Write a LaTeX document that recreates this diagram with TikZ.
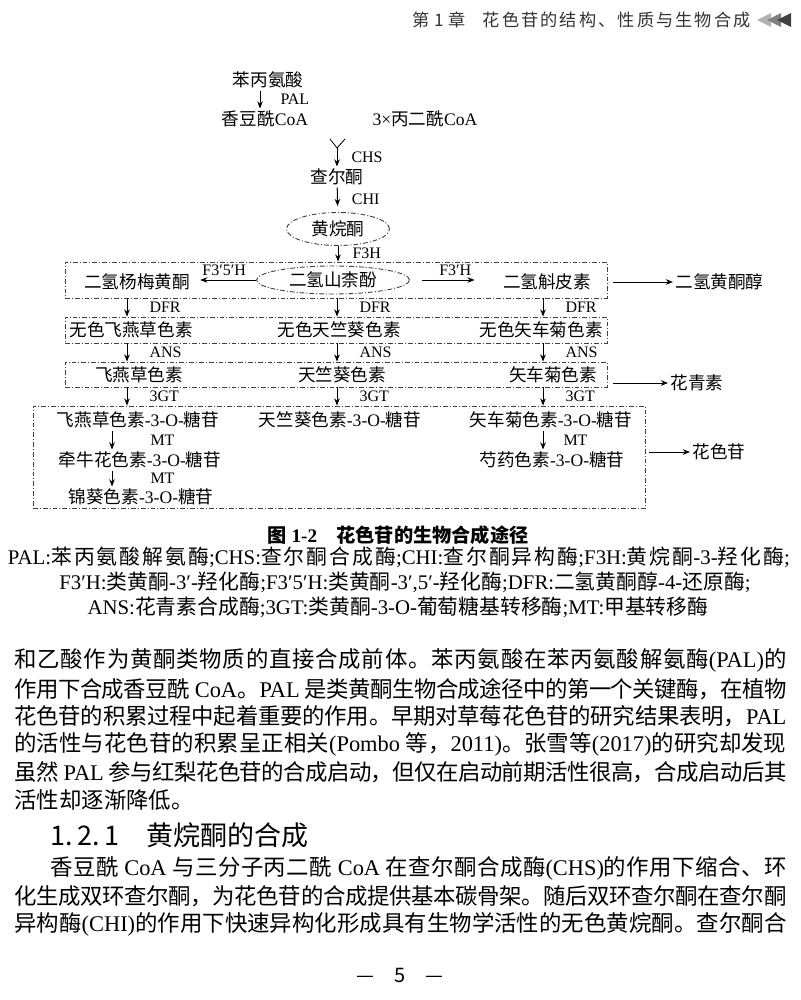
\documentclass[tikz,border=0pt]{standalone}
\usepackage{fontspec}
\setmainfont{Liberation Serif}[NFSSFamily=lser]
\newfontfamily\cjkfont{Noto Sans CJK SC}[NFSSFamily=cjk]
\usetikzlibrary{arrows.meta,positioning,shapes.geometric}

% Han characters go to the CJK font, everything else to the Latin one
\XeTeXinterchartokenstate=1
\newXeTeXintercharclass\cjkcls
\newcount\cjkcnt
\newcommand\setcjkrange[2]{\cjkcnt=#1\relax
  \loop\XeTeXcharclass\cjkcnt=\cjkcls
  \ifnum\cjkcnt<#2\advance\cjkcnt by 1\repeat}
\setcjkrange{"3000}{"303F}
\setcjkrange{"4E00}{"9FFF}
\setcjkrange{"FF00}{"FFEF}
\def\latfam{lser}
\newcommand\latinfont{\fontfamily{\latfam}\selectfont}
\newcommand\hanfont{\fontfamily{cjk}\selectfont}
\XeTeXinterchartoks 0 \cjkcls = {\hanfont}
\XeTeXinterchartoks 4095 \cjkcls = {\hanfont}
\XeTeXinterchartoks \cjkcls 0 = {\latinfont}
\XeTeXinterchartoks \cjkcls 4095 = {\latinfont}
\XeTeXinterchartoks \cjkcls \cjkcls = {\hskip 0pt plus 3pt minus 0.8pt}

\newcommand\sansall{\def\latfam{cjk}\fontfamily{cjk}\selectfont}
\newcommand\dgfont{\fontsize{8.8}{10}\selectfont}
\newcommand\ezfont{\fontsize{8}{9}\selectfont}
\newcommand\notefont{\fontsize{10.4}{12}\selectfont}
\newcommand\captfont{\fontsize{9.6}{11}\selectfont\bfseries}
\newcommand\bodyfont{\fontsize{11.2}{14}\selectfont}
\newcommand\hdfont{\sansall\fontsize{8.6}{10}\selectfont}
\newcommand\secfont{\sansall\fontsize{13.5}{16}\selectfont}

\begin{document}
\begin{tikzpicture}[x=0.5pt,y=-0.5pt,
    cn/.style={font=\dgfont,inner sep=1pt},
    ez/.style={font=\ezfont,inner sep=1pt},
    ddline/.style={draw=black!75,line width=0.45pt,
                   dash pattern=on 2.4pt off 1pt on 0.5pt off 1pt},
    grp/.style={ddline,inner sep=0pt},
    oval/.style={ellipse,ddline,inner sep=0pt,font=\dgfont},
    arr/.style={-{Stealth[length=3.6pt,width=2.8pt]},line width=0.5pt},
    body/.style={font=\bodyfont,inner sep=0pt,anchor=west},
    note/.style={font=\notefont,inner sep=0pt}
  ]
  \fill[white] (0,0) rectangle (800,1000);
  \useasboundingbox (0,0) rectangle (800,1000);

  % running head
  \node[font=\hdfont,text=black!80,anchor=east,inner sep=0pt] (hd) at (751,20)
    {\makebox[169pt][s]{第 1 章\quad 花色苷的结构、性质与生物合成}};
  \foreach \i/\c in {0/30,1/50,2/75}
    \fill[black!\c] (757+10*\i,20) -- ++(14,-7) -- ++(0,14) -- cycle;

  % upstream part
  \node[cn] (phe)  at (268,80)  {苯丙氨酸};
  \node[cn] (cou)  at (265,119) {香豆酰CoA};
  \node[cn] (mal)  at (425,119) {3×丙二酰CoA};
  \coordinate (ya) at (330,139);
  \coordinate (yb) at (345,139);
  \coordinate (yj) at (337,148);
  \node[cn] (chal) at (337,177) {查尔酮};
  \node[oval,minimum width=51.5pt,minimum height=16.5pt] (nar) at (338,229) {黄烷酮};

  % dihydroflavonols
  \node[grp,minimum width=271pt,minimum height=18pt] (row1) at (336,280) {};
  \node[cn] (dhm) at (137,282) {二氢杨梅黄酮};
  \node[oval,minimum width=76.5pt,minimum height=14pt] (dhk) at (333,280) {二氢山柰酚};
  \node[cn] (dhq) at (547,282) {二氢斛皮素};
  \node[cn,anchor=west] (dhf) at (673,282) {二氢黄酮醇};

  % leucoanthocyanidins
  \node[grp,minimum width=271pt,minimum height=13pt] (row2) at (336,330) {};
  \node[cn] (lde) at (131,330) {无色飞燕草色素};
  \node[cn] (lpe) at (339,330) {无色天竺葵色素};
  \node[cn] (lcy) at (541,330) {无色矢车菊色素};

  % anthocyanidins
  \node[grp,minimum width=271pt,minimum height=12.5pt] (row3) at (336,374.5) {};
  \node[cn] (del) at (139,375) {飞燕草色素};
  \node[cn] (pel) at (342,375) {天竺葵色素};
  \node[cn] (cya) at (553,375) {矢车菊色素};
  \node[cn,anchor=west] (ant) at (668,383) {花青素};

  % anthocyanins
  \node[grp,minimum width=306pt,minimum height=51pt] (row4) at (339,457) {};
  \node[cn] (del3) at (138,420) {飞燕草色素-3-O-糖苷};
  \node[cn] (pet3) at (140,460) {牵牛花色素-3-O-糖苷};
  \node[cn] (mal3) at (141,497) {锦葵色素-3-O-糖苷};
  \node[cn] (pel3) at (340,420) {天竺葵色素-3-O-糖苷};
  \node[cn] (cya3) at (551,420) {矢车菊色素-3-O-糖苷};
  \node[cn] (peo3) at (552,460) {芍药色素-3-O-糖苷};
  \node[cn,anchor=west] (acy) at (690,452) {花色苷};

  \coordinate (cLL) at (112,0);
  \coordinate (cL)  at (127,0);
  \coordinate (cM)  at (337,0);
  \coordinate (cR)  at (543,0);

  % Arrows
  \draw[arr] ([xshift=-4pt]phe.south) -- ([xshift=-4pt]phe.south |- cou.north)
    node[midway,right=9pt,ez] {PAL};
  \draw (ya) -- (yj) -- (yb);
  \draw[arr] (yj) -- (chal.north)
    node[midway,right=6pt,ez] {CHS};
  \draw[arr,shorten >=3pt] (chal) -- (nar)
    node[midway,right=6pt,ez] {CHI};
  \draw[arr] (nar) -- (nar |- row1.north)
    node[midway,right=6pt,ez] {F3H};
  \draw[arr,shorten >=4pt] (dhk.west) -- (dhk.west -| dhm.east)
    node[midway,above=1pt,ez] {F3′5′H};
  \draw[arr,shorten <=6pt,shorten >=13pt] (dhk.east) -- (dhk.east -| dhq.west)
    node[midway,above=1pt,ez] {F3′H};
  \foreach \c in {cL,cM,cR} {
    \draw[arr] (row1.south -| \c) -- (row2.north -| \c)
      node[midway,right=10pt,ez] {DFR};
    \draw[arr] (row2.south -| \c) -- (row3.north -| \c)
      node[midway,right=10pt,ez] {ANS};
    \draw[arr] (row3.south -| \c) -- (row4.north -| \c)
      node[midway,right=10pt,ez] {3GT};
  }
  \draw[arr] (del3.south -| cLL) -- (pet3.north -| cLL)
    node[midway,right=18pt,ez] {MT};
  \draw[arr] (pet3.south -| cLL) -- (mal3.north -| cLL)
    node[midway,right=18pt,ez] {MT};
  \draw[arr] (cya3.south -| cR) -- (peo3.north -| cR)
    node[midway,right=9pt,ez] {MT};

  % to the class names
  \draw[arr,shorten <=3pt] (row1.east |- dhf) -- (dhf);
  \draw[arr,shorten <=3pt] (row3.east |- ant) -- (ant);
  \draw[arr,shorten <=2pt] (row4.east |- acy) -- (acy);

  % caption
  \node[font=\captfont,inner sep=0pt] (cap) at (398,535) {图 1-2\quad 花色苷的生物合成途径};
  \node[note] (n1) at (399,557)
    {\makebox[391pt][s]{PAL:苯丙氨酸解氨酶;CHS:查尔酮合成酶;CHI:查尔酮异构酶;F3H:黄烷酮-3-羟化酶;}};
  \node[note] (n2) at (405,582)
    {F3′H:类黄酮-3′-羟化酶;F3′5′H:类黄酮-3′,5′-羟化酶;DFR:二氢黄酮醇-4-还原酶;};
  \node[note] (n3) at (398,607)
    {ANS:花青素合成酶;3GT:类黄酮-3-O-葡萄糖基转移酶;MT:甲基转移酶};

  % body text
  \node[body] (b1) at (14,660) {\makebox[386pt][s]{和乙酸作为黄酮类物质的直接合成前体。苯丙氨酸在苯丙氨酸解氨酶(PAL)的}};
  \node[body] (b2) at (14,689) {\makebox[386pt][s]{作用下合成香豆酰 CoA。PAL 是类黄酮生物合成途径中的第一个关键酶，在植物}};
  \node[body] (b3) at (14,716) {\makebox[386pt][s]{花色苷的积累过程中起着重要的作用。早期对草莓花色苷的研究结果表明，PAL}};
  \node[body] (b4) at (14,744) {\makebox[386pt][s]{的活性与花色苷的积累呈正相关(Pombo 等，2011)。张雪等(2017)的研究却发现}};
  \node[body] (b5) at (14,772) {\makebox[386pt][s]{虽然 PAL 参与红梨花色苷的合成启动，但仅在启动前期活性很高，合成启动后其}};
  \node[body] (b6) at (14,800) {活性却逐渐降低。};
  \node[font=\secfont,inner sep=0pt,anchor=west] (sec) at (50,835) {1.\,2.\,1\quad 黄烷酮的合成};
  \node[body] (b7) at (50,868) {\makebox[368pt][s]{香豆酰 CoA 与三分子丙二酰 CoA 在查尔酮合成酶(CHS)的作用下缩合、环}};
  \node[body] (b8) at (14,896) {\makebox[386pt][s]{化生成双环查尔酮，为花色苷的合成提供基本碳骨架。随后双环查尔酮在查尔酮}};
  \node[body] (b9) at (14,924) {\makebox[386pt][s]{异构酶(CHI)的作用下快速异构化形成具有生物学活性的无色黄烷酮。查尔酮合}};

  % folio
  \node[font=\hdfont\fontsize{10}{12}\selectfont,inner sep=0pt] (pg) at (400,975) {—\quad 5\quad —};
\end{tikzpicture}
\end{document}
